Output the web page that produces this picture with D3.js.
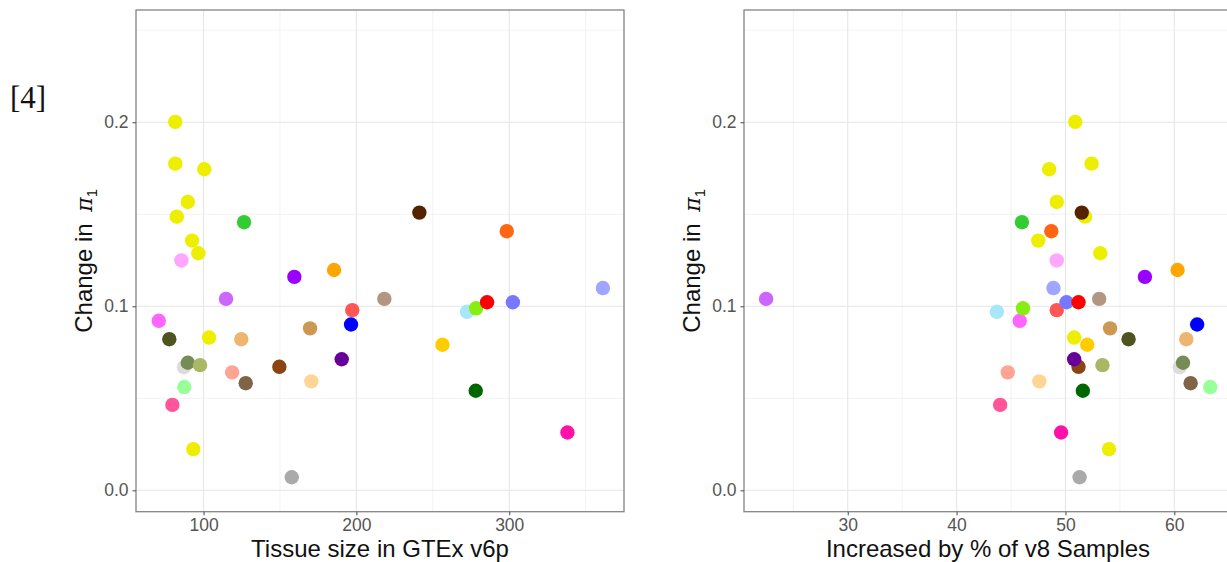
<!DOCTYPE html>
<html>
<head>
<meta charset="utf-8">
<script src="https://cdn.jsdelivr.net/npm/d3@7"></script>
<style>
  body { margin: 0; background: #fff; }
  text { font-family: "Liberation Sans", Arial, sans-serif; }
</style>
</head>
<body>
<div id="chart"></div>
<script>
// tissue colours, one per GTEx tissue (same order in every array)
var tissueColor = ["#EEEE00", "#EEEE00", "#EEEE00", "#EEEE00", "#EEEE00", "#33CC33", "#EEEE00", "#EEEE00",
    "#FFA6FF", "#9900FF", "#FFA500", "#CC66FF", "#FF66FF", "#4E5420", "#EEEE00", "#EEB570",
    "#CC9955", "#FF5555", "#0000FF", "#DCDCDC", "#778B55", "#AAB866", "#FFA494", "#8B4513",
    "#660099", "#806448", "#FFD596", "#99FF99", "#FF5599", "#EEEE00", "#AAAAAA", "#552200",
    "#FF6611", "#9EA6FF", "#B39584", "#A8E6FA", "#88EE11", "#7777FF", "#FF0000", "#FFCC00",
    "#006600", "#FF11AA"];

// sample size of each tissue in GTEx v6p
var tissueSize = [81.5, 81.5, 100.5, 89.7, 82.5, 126.5, 92.5, 96.6,
    85.5, 159.4, 185.4, 114.7, 70.7, 77.6, 103.6, 124.7,
    169.7, 197.3, 196.5, 87.2, 89.7, 97.7, 118.7, 149.6,
    190.4, 127.6, 170.5, 87.4, 79.6, 93.3, 157.7, 241.2,
    298.4, 361.3, 218.3, 272.4, 278.3, 302.4, 285.5, 256.3,
    278.1, 338.1];

// increase in samples, % of v8
var increasePct = [50.9, 52.4, 48.5, 49.2, 51.8, 46.0, 47.5, 53.2,
    49.2, 57.3, 60.3, 22.5, 45.8, 55.8, 50.8, 61.1,
    54.1, 49.2, 62.1, 60.5, 60.8, 53.4, 44.7, 51.2,
    50.8, 61.5, 47.6, 63.3, 44.0, 54.0, 51.3, 51.5,
    48.7, 48.9, 53.1, 43.7, 46.1, 50.1, 51.2, 52.0,
    51.6, 49.6];

// change in pi1
var changePi = [0.2002, 0.1775, 0.1745, 0.1567, 0.1487, 0.1457, 0.1357, 0.1288,
    0.1249, 0.1160, 0.1197, 0.1040, 0.0921, 0.0821, 0.0830, 0.0821,
    0.0880, 0.0979, 0.0901, 0.0669, 0.0693, 0.0680, 0.0641, 0.0671,
    0.0712, 0.0582, 0.0592, 0.0561, 0.0464, 0.0224, 0.0071, 0.1509,
    0.1408, 0.1099, 0.1040, 0.0970, 0.0989, 0.1022, 0.1022, 0.0791,
    0.0541, 0.0314];

// axis ticks
var yTicks = [0.0, 0.1, 0.2];
var yMinor = [0.05, 0.15, 0.25];
var sizeTicks = [100, 200, 300];
var sizeMinor = [150, 250, 350];
var pctTicks = [30, 40, 50, 60];
var pctMinor = [25, 35, 45, 55, 65];

var svgWidth = 1227, svgHeight = 562;
var panelTop = 10, panelBottom = 511.7, panelWidth = 488;

var svg = d3.select("#chart")
    .append("svg")
    .attr("width", svgWidth)
    .attr("height", svgHeight);

// little "[4]" mark on the left
svg.append("text")
    .attr("x", 10)
    .attr("y", 108)
    .style("font-family", "'Liberation Serif', 'Times New Roman', serif")
    .style("font-size", "31px")
    .attr("fill", "#111")
    .text("[4]");

var yScale = d3.scaleLinear().domain([-0.01163, 0.261]).range([panelBottom, panelTop]);

function drawPanel(left, xValues, xDomain, xTicks, xMinor, xTitle) {
    var xScale = d3.scaleLinear().domain(xDomain).range([0, panelWidth]);
    var h = panelBottom - panelTop;

    var g = svg.append("g")
        .attr("transform", `translate(${left}, ${panelTop})`);

    var y = d => yScale(d) - panelTop;

    // minor grid
    g.selectAll(".ymin").data(yMinor).enter().append("line")
        .attr("x1", 0).attr("x2", panelWidth)
        .attr("y1", y).attr("y2", y)
        .attr("stroke", "#efefef").attr("stroke-width", 0.8);
    g.selectAll(".xmin").data(xMinor).enter().append("line")
        .attr("x1", d => xScale(d)).attr("x2", d => xScale(d))
        .attr("y1", 0).attr("y2", h)
        .attr("stroke", "#efefef").attr("stroke-width", 0.8);

    // major grid
    g.selectAll(".ymaj").data(yTicks).enter().append("line")
        .attr("x1", 0).attr("x2", panelWidth)
        .attr("y1", y).attr("y2", y)
        .attr("stroke", "#e6e6e6").attr("stroke-width", 1.1);
    g.selectAll(".xmaj").data(xTicks).enter().append("line")
        .attr("x1", d => xScale(d)).attr("x2", d => xScale(d))
        .attr("y1", 0).attr("y2", h)
        .attr("stroke", "#e6e6e6").attr("stroke-width", 1.1);

    // points
    g.selectAll("circle")
        .data(changePi)
        .enter()
        .append("circle")
        .attr("cx", (d, i) => xScale(xValues[i]))
        .attr("cy", d => y(d))
        .attr("r", 7.2)
        .attr("fill", (d, i) => tissueColor[i]);

    // panel border
    g.append("rect")
        .attr("width", panelWidth)
        .attr("height", h)
        .attr("fill", "none")
        .attr("stroke", "#858585")
        .attr("stroke-width", 1.3);

    // axes
    var leftAxis = d3.axisLeft(d3.scaleLinear().domain(yScale.domain()).range([h, 0]))
        .tickValues(yTicks).tickSize(3.5).tickPadding(4).tickFormat(d3.format(".1f"));
    var bottomAxis = d3.axisBottom(xScale)
        .tickValues(xTicks).tickSize(3.5).tickPadding(3).tickFormat(d3.format("d"));

    var yAxis = g.append("g").call(leftAxis);
    var xAxis = g.append("g").attr("transform", `translate(0, ${h})`).call(bottomAxis);

    [yAxis, xAxis].forEach(function(ax) {
        ax.select(".domain").remove();
        ax.selectAll(".tick line").attr("stroke", "#555").attr("stroke-width", 1.1);
        ax.selectAll(".tick text")
            .attr("fill", "#555")
            .style("font-family", "'Liberation Sans', Arial, sans-serif")
            .style("font-size", "17.5px");
    });

    // x title
    g.append("text")
        .attr("x", panelWidth / 2)
        .attr("y", 556.5 - panelTop)
        .attr("text-anchor", "middle")
        .attr("fill", "#111")
        .style("font-size", "24px")
        .text(xTitle);

    // y title: Change in pi[1]
    var yLab = g.append("text")
        .attr("transform", `translate(-44.5, ${h / 2}) rotate(-90)`)
        .attr("text-anchor", "middle")
        .attr("fill", "#111")
        .style("font-size", "24px");
    yLab.append("tspan").text("Change in ");
    yLab.append("tspan")
        .attr("dx", 5)
        .style("font-family", "'DejaVu Serif', serif")
        .style("font-style", "italic")
        .style("font-size", "22px")
        .text("\u03C0");
    yLab.append("tspan")
        .attr("dy", 5)
        .style("font-size", "15px")
        .text("1");
}

drawPanel(136, tissueSize, [55.8, 375.1], sizeTicks, sizeMinor, "Tissue size in GTEx v6p");
drawPanel(744, increasePct, [20.47, 65.3], pctTicks, pctMinor, "Increased by % of v8 Samples");
</script>
</body>
</html>
